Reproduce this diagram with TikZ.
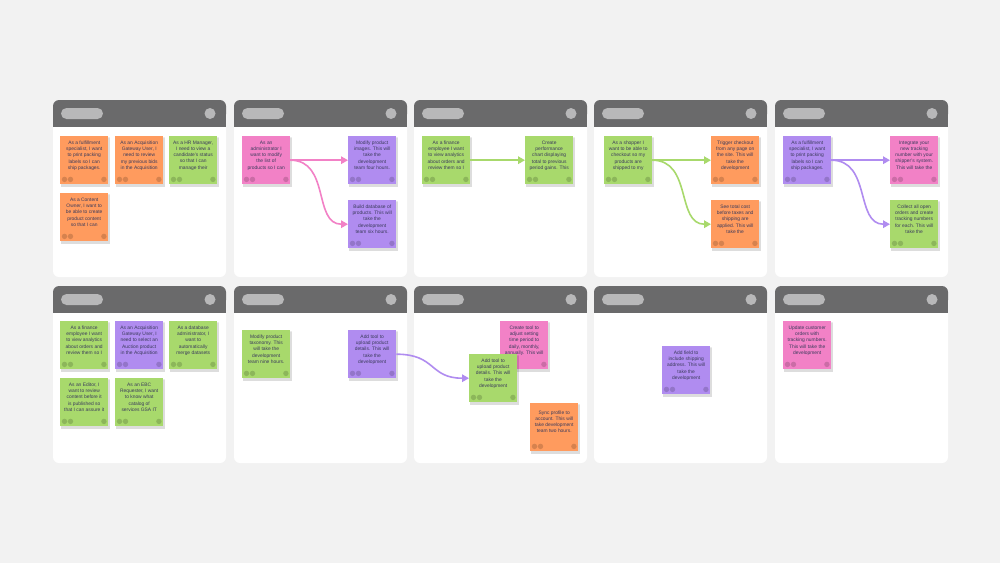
\documentclass[tikz,border=0pt]{standalone}
\usepackage{fontspec}
\setmainfont{Liberation Sans}
\usetikzlibrary{arrows.meta}
\definecolor{bg}{HTML}{F2F2F2}
\definecolor{hdr}{HTML}{6A6A6B}
\definecolor{pill}{HTML}{B8B8B9}
\definecolor{cO}{HTML}{FF9B5E}
\definecolor{cG}{HTML}{A8D96C}
\definecolor{cP}{HTML}{F281C6}
\definecolor{cV}{HTML}{B08CF0}
\definecolor{ink}{HTML}{3B3B5C}
\tikzset{
  notebox/.style={minimum width=48pt,minimum height=48pt,inner sep=0pt,anchor=north west},
  notetext/.style={anchor=north,inner sep=0pt,align=center,font=\fontsize{4.9}{6.3}\selectfont,text=ink},
  conn/.style={line width=1.6pt,-{Triangle[length=7pt,width=7.5pt]}}
}
\newcommand{\sticky}[5]{%
  \fill[black,opacity=0.08] (#2+0.5,#3+1) rectangle ++(49,49.5);
  \fill[black,opacity=0.06] (#2+1,#3+2) rectangle ++(48.5,48.5);
  \node[notebox,fill=#4] (#1) at (#2,#3) {};
  \node[notetext] (#1t) at ([yshift=-4.5pt]#1.north) {#5};
  \fill[black,opacity=0.16] ([shift={(4.5pt,5pt)}]#1.south west) circle (2.7pt)
    ([shift={(10.5pt,5pt)}]#1.south west) circle (2.7pt)
    ([shift={(-4.5pt,5pt)}]#1.south east) circle (2.7pt);
}
\newcommand{\panel}[3]{%
  \fill[white,rounded corners=6pt] (#1,#2) rectangle ++(173,177);
  \fill[hdr,rounded corners=6pt] (#1,#2) rectangle ++(173,20);
  \fill[hdr] (#1,#2+12) rectangle ++(173,15);
  \fill[pill,rounded corners=5.5pt] (#1+8,#2+8) rectangle ++(42,11);
  \fill[pill] (#1+157,#2+13.5) circle (5.5);
  \node[inner sep=0pt] (#3) at (#1+86.5,#2+88) {};
}
\begin{document}
\begin{tikzpicture}[x=1pt,y=-1pt]
\fill[bg] (0,0) rectangle (1000,563);
\useasboundingbox (0,0) rectangle (1000,563);
\panel{53}{100}{p1}\panel{234}{100}{p2}\panel{414}{100}{p3}\panel{594}{100}{p4}\panel{775}{100}{p5}
\panel{53}{286}{q1}\panel{234}{286}{q2}\panel{414}{286}{q3}\panel{594}{286}{q4}\panel{775}{286}{q5}
% row 1
\sticky{a1}{60}{136}{cO}{As a fulfillment\\specialist, I want\\to print packing\\labels so I can\\ship packages.}
\sticky{a2}{115}{136}{cO}{As an Acquisition\\Gateway User, I\\need to review\\my previous bids\\in the Acquisition}
\sticky{a3}{169}{136}{cG}{As a HR Manager,\\I need to view a\\candidate's status\\so that I can\\manage their}
\sticky{a4}{60}{193}{cO}{As a Content\\Owner, I want to\\be able to create\\product content\\so that I can}
\sticky{b1}{242}{136}{cP}{As an\\administrator I\\want to modify\\the list of\\products so I can}
\sticky{b2}{348}{136}{cV}{Modify product\\images. This will\\take the\\development\\team four hours.}
\sticky{b3}{348}{200}{cV}{Build database of\\products. This will\\take the\\development\\team six hours.}
\sticky{c1}{422}{136}{cG}{As a finance\\employee I want\\to view analytics\\about orders and\\review them so I}
\sticky{c2}{525}{136}{cG}{Create\\performance\\chart displaying\\total to previous\\period gains. This}
\sticky{d1}{604}{136}{cG}{As a shopper I\\want to be able to\\checkout so my\\products are\\shipped to my}
\sticky{d2}{711}{136}{cO}{Trigger checkout\\from any page on\\the site. This will\\take the\\development}
\sticky{d3}{711}{200}{cO}{See total cost\\before taxes and\\shipping are\\applied. This will\\take the}
\sticky{e1}{783}{136}{cV}{As a fulfillment\\specialist, I want\\to print packing\\labels so I can\\ship packages.}
\sticky{e2}{890}{136}{cP}{Integrate your\\new tracking\\number with your\\shipper's system.\\This will take the}
\sticky{e3}{890}{200}{cG}{Collect all open\\orders and create\\tracking numbers\\for each. This will\\take the}
% row 2
\sticky{f1}{60}{321}{cG}{As a finance\\employee I want\\to view analytics\\about orders and\\review them so I}
\sticky{f2}{115}{321}{cV}{As an Acquisition\\Gateway User, I\\need to select an\\Auction product\\in the Acquisition}
\sticky{f3}{169}{321}{cG}{As a database\\administrator, I\\want to\\automatically\\merge datasets}
\sticky{f4}{60}{378}{cG}{As an Editor, I\\want to review\\content before it\\is published so\\that I can assure it}
\sticky{f5}{115}{378}{cG}{As an EBC\\Requester, I want\\to know what\\catalog of\\services GSA IT}
\sticky{g1}{242}{330}{cG}{Modify product\\taxonomy. This\\will take the\\development\\team nine hours.}
\sticky{g2}{348}{330}{cV}{Add tool to\\upload product\\details. This will\\take the\\development}
\sticky{h1}{500}{321}{cP}{Create tool to\\adjust setting\\time period to\\daily, monthly,\\annually. This will}
\sticky{h2}{469}{354}{cG}{Add tool to\\upload product\\details. This will\\take the\\development}
\sticky{h3}{530}{403}{cO}{~\\Sync profile to\\account. This will\\take development\\team two hours.}
\sticky{i1}{662}{346}{cV}{Add field to\\include shipping\\address. This will\\take the\\development}
\sticky{j1}{783}{321}{cP}{Update customer\\orders with\\tracking numbers.\\This will take the\\development}
% connectors
\draw[conn,cP] (b1.east) -- (b2.west);
\draw[conn,cP] (b1.east) .. controls +(40,0) and +(-35,0) .. (b3.west);
\draw[conn,cG] (c1.east) -- (c2.west);
\draw[conn,cG] (d1.east) -- (d2.west);
\draw[conn,cG] (d1.east) .. controls +(40,0) and +(-35,0) .. (d3.west);
\draw[conn,cV] (e1.east) -- (e2.west);
\draw[conn,cV] (e1.east) .. controls +(40,0) and +(-35,0) .. (e3.west);
\draw[conn,cV] (g2.east) .. controls +(40,0) and +(-40,0) .. (h2.west);
\end{tikzpicture}
\end{document}
